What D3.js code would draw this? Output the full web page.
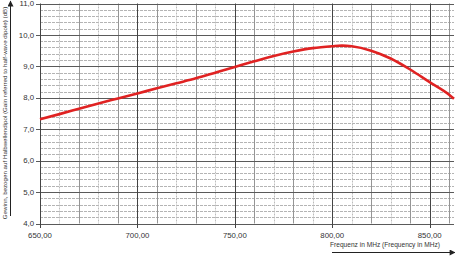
<!DOCTYPE html>
<html>
<head>
<meta charset="utf-8">
<script src="https://cdn.jsdelivr.net/npm/d3@7"></script>
<style>
  body { margin: 0; background: #fff; }
  text { font-family: "Liberation Sans", Arial, sans-serif; fill: #333; }
</style>
</head>
<body>
<svg id="chart" width="455" height="256"></svg>
<script>
// frequency (MHz) and gain (dB)
let freq = [650, 660, 670, 680, 690, 700, 710, 720, 730, 740, 750, 760, 770, 780, 790, 800, 805, 810, 820, 830, 840, 850, 860, 862.5];
let gain = [7.32, 7.48, 7.65, 7.82, 7.98, 8.14, 8.30, 8.46, 8.62, 8.80, 8.98, 9.16, 9.33, 9.47, 9.58, 9.64, 9.66, 9.64, 9.50, 9.25, 8.90, 8.50, 8.10, 7.97];
let xTicks = [650, 700, 750, 800, 850];
let yTicks = [4, 5, 6, 7, 8, 9, 10, 11];
let xMinor = [660, 670, 680, 690, 710, 720, 730, 740, 760, 770, 780, 790, 810, 820, 830, 840, 860];
let xMinorDotted = [660, 680, 720, 740, 770, 790, 810, 830];
let yLabel = 'Gewinn, bezogen auf Halbwellendipol (Gain referred to half-wave dipole) (dB)';
let xLabel = 'Frequenz in MHz (Frequency in MHz)';

let svg = d3.select('#chart');
let x = d3.scaleLinear().domain([650, 862.5]).range([40, 454]);
let y = d3.scaleLinear().domain([4, 11]).range([223.5, 3.5]);

let g = svg.append('g');

// horizontal minor grid every 0.2
let yMinor = d3.range(4, 11, 0.2).filter(v => Math.abs(v - Math.round(v)) > 0.01);
g.selectAll('.hmin').data(yMinor).enter().append('line')
    .attr('x1', 40).attr('x2', 454)
    .attr('y1', d => Math.round(y(d)) + 0.5).attr('y2', d => Math.round(y(d)) + 0.5)
    .attr('stroke', '#b4b4b4').attr('stroke-width', 1).attr('stroke-dasharray', '3 1');

// vertical minor grid
g.selectAll('.vmin').data(xMinor).enter().append('line')
    .attr('x1', d => Math.round(x(d)) + 0.5).attr('x2', d => Math.round(x(d)) + 0.5)
    .attr('y1', 3.5).attr('y2', 223.5)
    .attr('stroke', d => xMinorDotted.indexOf(d) != -1 ? '#bcbcbc' : '#959595')
    .attr('stroke-width', 1)
    .attr('stroke-dasharray', d => xMinorDotted.indexOf(d) != -1 ? '2 1' : null);

// major grid
g.selectAll('.hmaj').data(yTicks).enter().append('line')
    .attr('x1', 36).attr('x2', 454)
    .attr('y1', d => Math.round(y(d)) + 0.5).attr('y2', d => Math.round(y(d)) + 0.5)
    .attr('stroke', '#5a5a5a').attr('stroke-width', 1);
g.selectAll('.vmaj').data(xTicks).enter().append('line')
    .attr('x1', d => Math.round(x(d)) + 0.5).attr('x2', d => Math.round(x(d)) + 0.5)
    .attr('y1', 3.5).attr('y2', 228)
    .attr('stroke', '#444').attr('stroke-width', 1);

// tick labels
g.selectAll('.ylab').data(yTicks).enter().append('text')
    .attr('x', 34).attr('y', d => y(d) + 2.6)
    .attr('text-anchor', 'end').attr('font-size', 7.8)
    .text(d => d3.format('.1f')(d).replace('.', ','));
g.selectAll('.xlab').data(xTicks).enter().append('text')
    .attr('x', d => x(d)).attr('y', 238)
    .attr('text-anchor', 'middle').attr('font-size', 7.8)
    .text(d => d3.format('.2f')(d).replace('.', ','));

// curve
let line = d3.line().x((d, i) => x(freq[i])).y(d => y(d)).curve(d3.curveMonotoneX);
g.append('path').datum(gain)
    .attr('d', line)
    .attr('fill', 'none').attr('stroke', '#e02222').attr('stroke-width', 2.6);

// axis titles with arrows
svg.append('defs').append('marker')
    .attr('id', 'arr').attr('viewBox', '0 0 10 10').attr('refX', 9).attr('refY', 5)
    .attr('markerWidth', 8).attr('markerHeight', 6).attr('orient', 'auto')
    .attr('markerUnits', 'userSpaceOnUse')
    .append('path').attr('d', 'M0,0 L10,5 L0,10 Z').attr('fill', '#222');

svg.append('line').attr('x1', 10.5).attr('x2', 10.5).attr('y1', 216).attr('y2', 1)
    .attr('stroke', '#222').attr('stroke-width', 1).attr('marker-end', 'url(#arr)');
svg.append('text').attr('transform', 'translate(6.5,113) rotate(-90)')
    .attr('text-anchor', 'middle').attr('font-size', 6.2).text(yLabel);

svg.append('line').attr('x1', 332).attr('x2', 455).attr('y1', 252.5).attr('y2', 252.5)
    .attr('stroke', '#222').attr('stroke-width', 1).attr('marker-end', 'url(#arr)');
svg.append('text').attr('x', 385).attr('y', 247)
    .attr('text-anchor', 'middle').attr('font-size', 6.6).text(xLabel);
</script>
</body>
</html>
